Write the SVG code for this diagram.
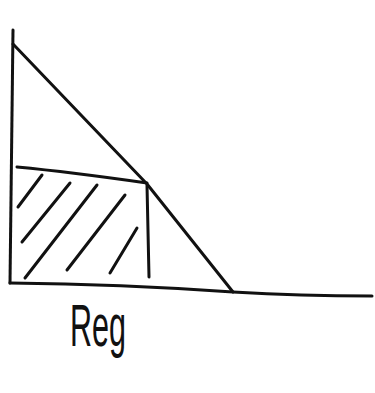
<svg xmlns="http://www.w3.org/2000/svg" width="375" height="393" viewBox="0 0 375 393">
<style>
.s{fill:none;stroke:#111;stroke-width:3;stroke-linecap:round;stroke-linejoin:round}
.t{font-family:"Liberation Sans",sans-serif;fill:#111}
</style>
<rect width="375" height="393" fill="#fff"/>
<g id="axes">
<path class="s" d="M13,30 Q12,150 10,283"/>
<path class="s" d="M10,283 Q120,284 233,292 Q300,296 372,296"/>
</g>
<g id="triangle">
<path class="s" d="M13,44 L147,184 L233,292"/>
</g>
<g id="rectangle">
<path class="s" d="M17,167 Q70,172 147,183"/>
<path class="s" d="M147,185 L149,277"/>
</g>
<g id="hatching">
<path class="s" d="M42,175 L18,207"/>
<path class="s" d="M70,183 L22,242"/>
<path class="s" d="M97,185 L25,278"/>
<path class="s" d="M125,195 L67,270"/>
<path class="s" d="M137,228 L110,273"/>
</g>
<g id="label">
<text class="t" x="70" y="346" font-size="60" textLength="56" lengthAdjust="spacingAndGlyphs">Reg</text>
</g>
</svg>
